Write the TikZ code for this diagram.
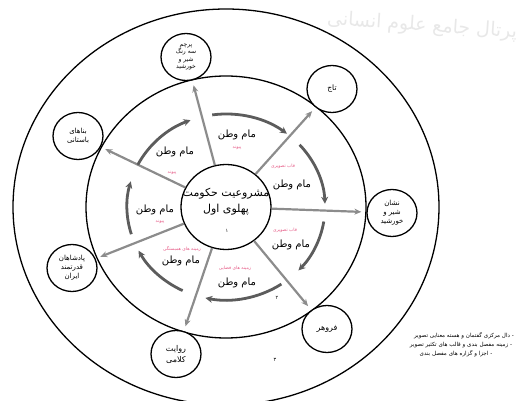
\documentclass[tikz,border=0pt]{standalone}
\usepackage{fontspec}
\newfontfamily\fa[Script=Arabic]{DejaVu Sans}
\TeXXeTstate=1
\usetikzlibrary{shapes.geometric,arrows.meta,calc}

\definecolor{spokegray}{rgb}{0.55,0.55,0.55}
\definecolor{sweepgray}{rgb}{0.36,0.36,0.36}
\definecolor{notepink}{rgb}{0.90,0.35,0.52}
\newcommand{\rl}[1]{\beginR #1\endR}

\tikzset{
  sat/.style={draw, black, line width=1.3pt, fill=white, ellipse, minimum width=50pt, minimum height=47pt,
    inner sep=0pt, align=center, font=\fa\fontsize{6}{7.5}\selectfont},
  spoke/.style={spokegray, line width=2.2pt, -{Stealth[length=7pt,width=6pt]}, shorten >=5pt},
  sweeparrow/.style={sweepgray, line width=2.8pt, -{Stealth[length=7pt,width=7pt]}},
  mam/.style={font=\fa\fontsize{10}{10}\selectfont},
  pinknote/.style={notepink, font=\fa\fontsize{4.5}{5}\selectfont},
  legline/.style={font=\fa\fontsize{5.6}{6}\selectfont},
  digit/.style={font=\fa\fontsize{5}{5}\selectfont},
}

\begin{document}
\begin{tikzpicture}[x=1pt, y=-1pt]
            \useasboundingbox (0,0) rectangle (531,401);
            \coordinate (o) at (226,207);

            % watermark
            \node[gray!18, font=\fa\fontsize{19}{19}\selectfont, rotate=-4] (mark) at (422,26) {\rl{پرتال جامع علوم انسانی}};

            \draw[black, line width=1.3pt] (o) ellipse [x radius=213, y radius=198];
            \draw[black, line width=1.3pt] (o) ellipse [x radius=140, y radius=131];

            \node[draw, ellipse, line width=1.3pt, minimum width=90pt, minimum height=85pt, inner sep=0pt] (core) at (o) {};
            \node[align=center, font=\fa\fontsize{11}{16}\selectfont] (coretext) at (226,202) {\rl{مشروعیت حکومت}\\\rl{پهلوی اول}};
            \node[digit] (num1) at (227,231) {۱};

            \node[sat] (parcham) at (186,57) {\rl{پرچم}\\\rl{سه رنگ}\\\rl{شیر و}\\\rl{خورشید}};
            \node[sat, font=\fa\fontsize{7.5}{8}\selectfont] (taj) at (332,89) {\rl{تاج}};
            \node[sat, font=\fa\fontsize{7}{9}\selectfont] (banaha) at (78,136) {\rl{بناهای}\\\rl{باستانی}};
            \node[sat, font=\fa\fontsize{7}{9}\selectfont] (neshan) at (392,213) {\rl{نشان}\\\rl{شیر و}\\\rl{خورشید}};
            \node[sat, font=\fa\fontsize{7}{9}\selectfont] (padshahan) at (72,268) {\rl{پادشاهان}\\\rl{قدرتمند}\\\rl{ایران}};
            \node[sat, font=\fa\fontsize{8}{11}\selectfont] (revayat) at (176,354) {\rl{روایت}\\\rl{کلامی}};
            \node[sat, font=\fa\fontsize{8}{9}\selectfont] (forouhar) at (327,329) {\rl{فروهر}};

            \draw[spoke] (core) -- (parcham);
            \draw[spoke] (core) -- (taj);
            \draw[spoke] (core) -- (neshan);
            \draw[spoke] (core) -- (forouhar);
            \draw[spoke] (core) -- (revayat);
            \draw[spoke] (core) -- (padshahan);
            \draw[spoke] (core) -- (banaha);

            % clockwise sweeps between the spokes
            \draw[sweeparrow] ($(o)+(-98:99 and 93)$) arc[start angle=-98, end angle=-52, x radius=99, y radius=93];
            \draw[sweeparrow] ($(o)+(-42:99 and 93)$) arc[start angle=-42, end angle=-2, x radius=99, y radius=93];
            \draw[sweeparrow] ($(o)+(9:99 and 93)$) arc[start angle=9, end angle=43, x radius=99, y radius=93];
            \draw[sweeparrow] ($(o)+(56:99 and 93)$) arc[start angle=56, end angle=102, x radius=99, y radius=93];
            \draw[sweeparrow] ($(o)+(116:99 and 93)$) arc[start angle=116, end angle=152, x radius=99, y radius=93];
            \draw[sweeparrow] ($(o)+(163:99 and 93)$) arc[start angle=163, end angle=196, x radius=99, y radius=93];
            \draw[sweeparrow] ($(o)+(207:99 and 93)$) arc[start angle=207, end angle=249, x radius=99, y radius=93];

            \node[mam] (mam1) at (237,135) {\rl{مام وطن}};
            \node[mam] (mam2) at (292,185) {\rl{مام وطن}};
            \node[mam] (mam3) at (291,245) {\rl{مام وطن}};
            \node[mam] (mam4) at (237,283) {\rl{مام وطن}};
            \node[mam] (mam5) at (181,261) {\rl{مام وطن}};
            \node[mam] (mam6) at (155,210) {\rl{مام وطن}};
            \node[mam] (mam7) at (175,152) {\rl{مام وطن}};

            \node[pinknote] (note1) at (237,148) {\rl{پیوند}};
            \node[pinknote] (note2) at (283,166) {\rl{قاب تصویری}};
            \node[pinknote] (note3) at (285,230) {\rl{قاب تصویری}};
            \node[pinknote] (note4) at (235,268) {\rl{زمینه های فضایی}};
            \node[pinknote] (note5) at (182,249) {\rl{زمینه های همبستگی}};
            \node[pinknote] (note6) at (160,222) {\rl{پیوند}};
            \node[pinknote] (note7) at (172,173) {\rl{پیوند}};

            \node[digit] (num2) at (277,298) {۲};
            \node[digit] (num3) at (275,360) {۳};

            \node[legline] (leg1) at (464,336) {\rl{- دال مرکزی گفتمان و هسته معنایی تصویر}};
            \node[legline] (leg2) at (461,345) {\rl{- زمینه مفصل بندی و قالب های تکثیر تصویر}};
            \node[legline] (leg3) at (456,354) {\rl{- اجزا و گزاره های مفصل بندی}};
        \end{tikzpicture}
\end{document}
